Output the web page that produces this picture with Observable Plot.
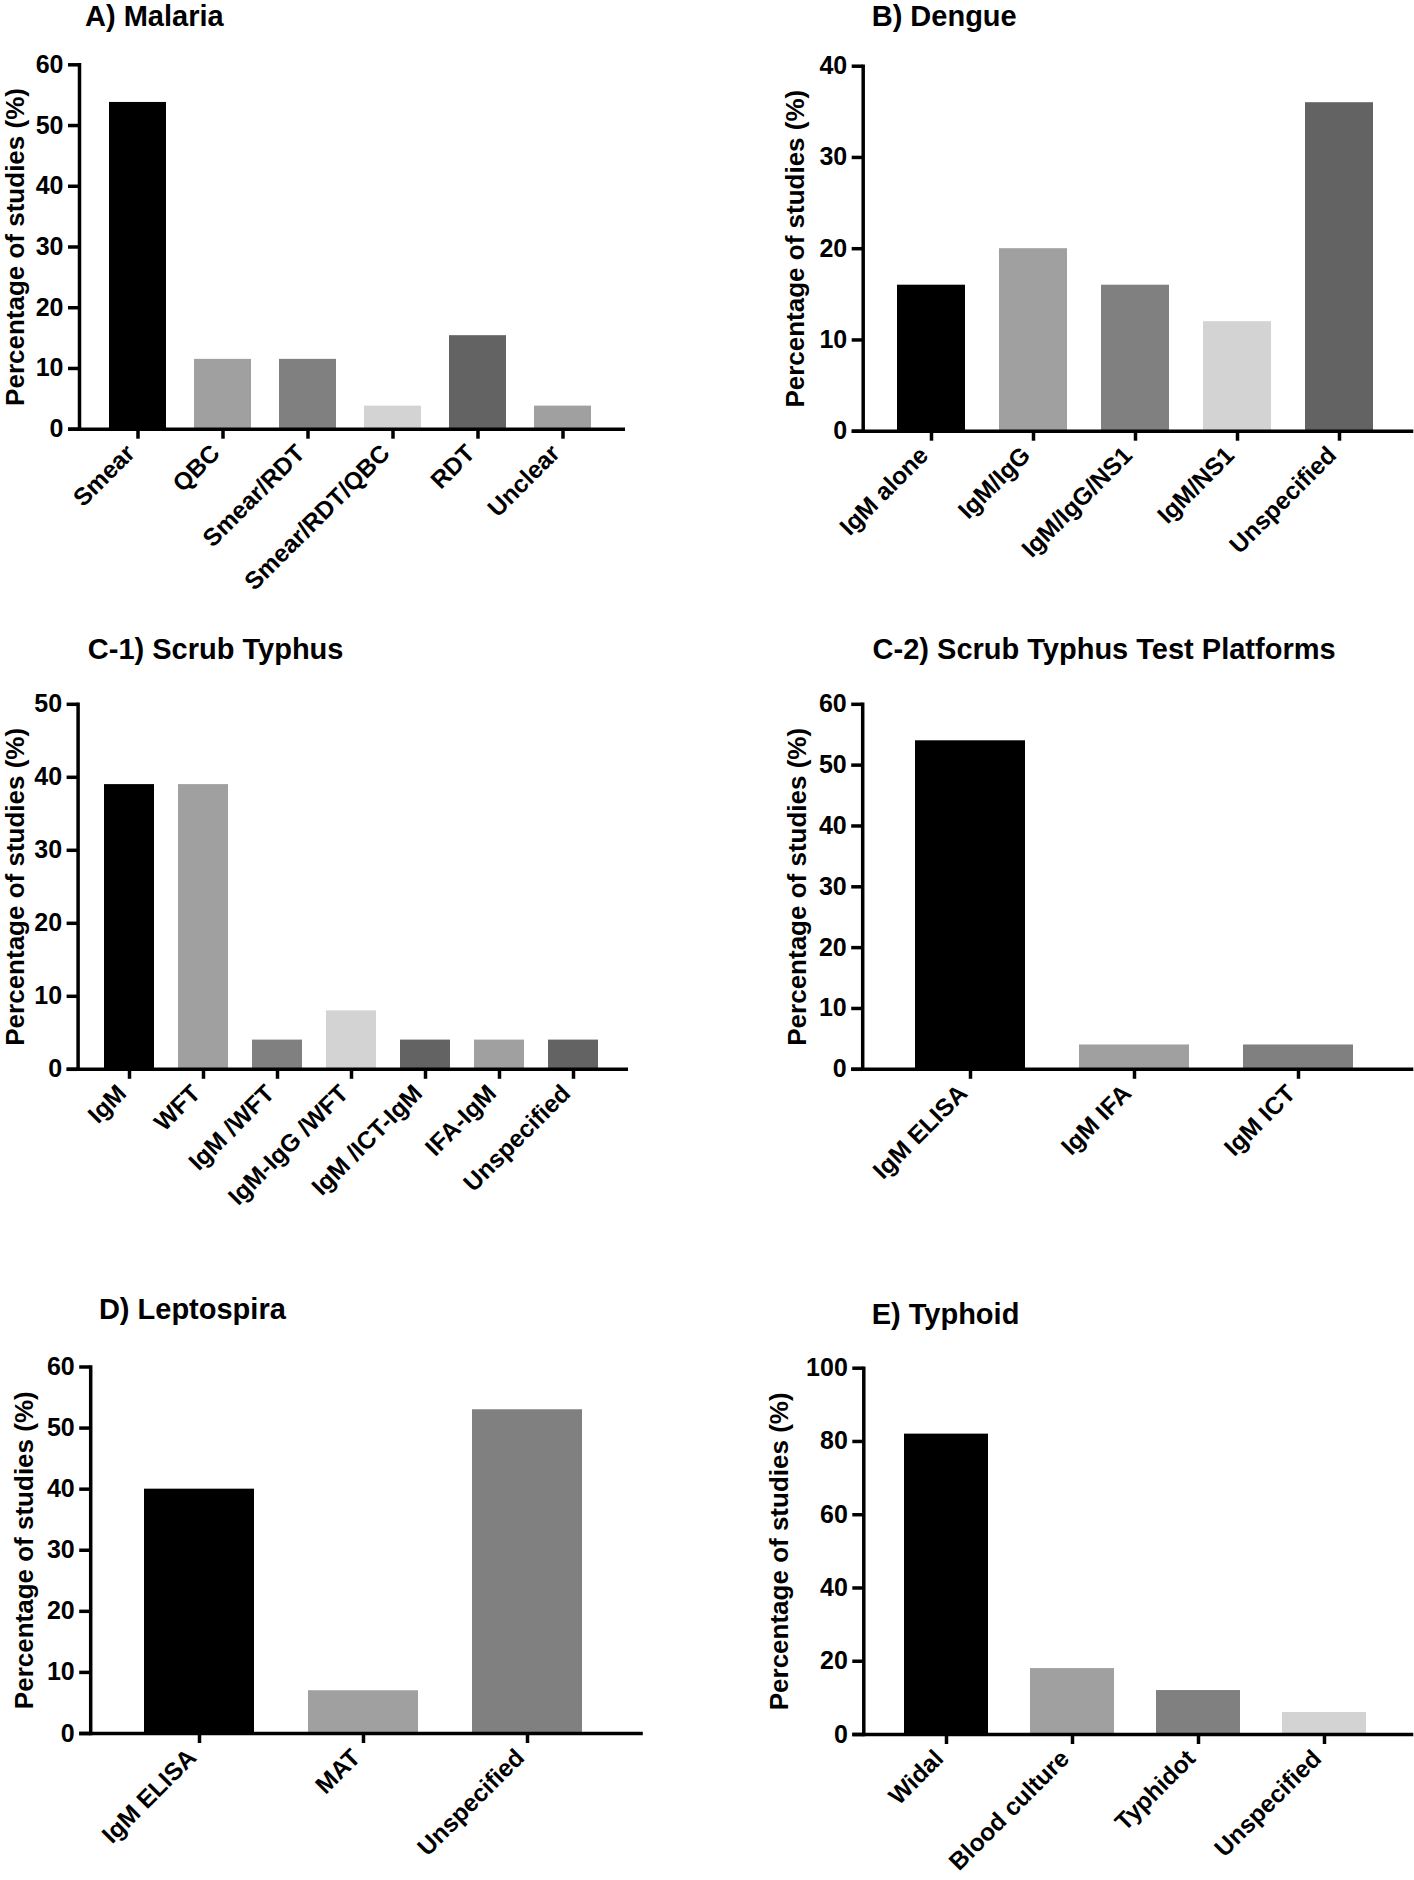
<!DOCTYPE html>
<html>
<head>
<meta charset="utf-8">
<script src="https://cdn.jsdelivr.net/npm/d3@7"></script>
<script src="https://cdn.jsdelivr.net/npm/@observablehq/plot@0.6"></script>
<style>
  html, body { margin: 0; padding: 0; background: #fff; }
  #root { position: relative; width: 1414px; height: 1880px; overflow: hidden; background: #fff;
          font-family: "Liberation Sans", Arial, sans-serif; }
  .panel { position: absolute; }
  .title { position: absolute; font-weight: bold; font-size: 29px; line-height: 29px; white-space: nowrap; color: #000; }
</style>
</head>
<body>
<div id="root"></div>
<script>
// ---------------- DATA ----------------
const yAxisLabel = "Percentage of studies (%)";

const malariaTitle = "A) Malaria";
const malariaCategories = ["Smear", "QBC", "Smear/RDT", "Smear/RDT/QBC", "RDT", "Unclear"];
const malariaValues = [53.8, 11.5, 11.5, 3.8, 15.4, 3.8];
const malariaTicks = [0, 10, 20, 30, 40, 50, 60];

const dengueTitle = "B) Dengue";
const dengueCategories = ["IgM alone", "IgM/IgG", "IgM/IgG/NS1", "IgM/NS1", "Unspecified"];
const dengueValues = [16, 20, 16, 12, 36];
const dengueTicks = [0, 10, 20, 30, 40];

const scrubTitle = "C-1) Scrub Typhus";
const scrubCategories = ["IgM", "WFT", "IgM /WFT", "IgM-IgG /WFT", "IgM /ICT-IgM", "IFA-IgM", "Unspecified"];
const scrubValues = [39, 39, 4, 8, 4, 4, 4];
const scrubTicks = [0, 10, 20, 30, 40, 50];

const platformTitle = "C-2) Scrub Typhus Test Platforms";
const platformCategories = ["IgM ELISA", "IgM IFA", "IgM ICT"];
const platformValues = [54, 4, 4];
const platformTicks = [0, 10, 20, 30, 40, 50, 60];

const leptoTitle = "D) Leptospira";
const leptoCategories = ["IgM ELISA", "MAT", "Unspecified"];
const leptoValues = [40, 7, 53];
const leptoTicks = [0, 10, 20, 30, 40, 50, 60];

const typhoidTitle = "E) Typhoid";
const typhoidCategories = ["Widal", "Blood culture", "Typhidot", "Unspecified"];
const typhoidValues = [82, 18, 12, 6];
const typhoidTicks = [0, 20, 40, 60, 80, 100];

// ---------------- STYLE / LAYOUT ----------------
const BLACK = "#000000", G1 = "#a0a0a0", G2 = "#808080", G3 = "#d3d3d3", G4 = "#636363";

const panels = [
  { title: malariaTitle, cats: malariaCategories, values: malariaValues, ticks: malariaTicks, ymax: 60,
    colors: [BLACK, G1, G2, G3, G4, G1],
    left: 0, top: 0, width: 640, height: 620, axisX: 79, xEnd: 625, yTop: 64.3, yBottom: 428.7,
    labelX: 23.8, titleX: 85, titleBase: 26.5 },
  { title: dengueTitle, cats: dengueCategories, values: dengueValues, ticks: dengueTicks, ymax: 40,
    colors: [BLACK, G1, G2, G3, G4],
    left: 760, top: 0, width: 654, height: 620, axisX: 862.7, xEnd: 1413.3, yTop: 65.7, yBottom: 430.7,
    labelX: 803.5, titleX: 871.7, titleBase: 26.5 },
  { title: scrubTitle, cats: scrubCategories, values: scrubValues, ticks: scrubTicks, ymax: 50,
    colors: [BLACK, G1, G2, G3, G4, G1, G4],
    left: 0, top: 620, width: 640, height: 620, axisX: 77.6, xEnd: 628, yTop: 703.8, yBottom: 1068.8,
    labelX: 23.8, titleX: 87.8, titleBase: 659.5 },
  { title: platformTitle, cats: platformCategories, values: platformValues, ticks: platformTicks, ymax: 60,
    colors: [BLACK, G1, G2],
    left: 760, top: 620, width: 654, height: 620, axisX: 862.2, xEnd: 1413.3, yTop: 703.8, yBottom: 1068.8,
    labelX: 805.6, titleX: 872.6, titleBase: 659.5 },
  { title: leptoTitle, cats: leptoCategories, values: leptoValues, ticks: leptoTicks, ymax: 60,
    colors: [BLACK, G1, G2],
    left: 0, top: 1250, width: 660, height: 630, axisX: 90.2, xEnd: 642.8, yTop: 1366.5, yBottom: 1733,
    labelX: 32.5, titleX: 98.9, titleBase: 1319.8 },
  { title: typhoidTitle, cats: typhoidCategories, values: typhoidValues, ticks: typhoidTicks, ymax: 100,
    colors: [BLACK, G1, G2, G3],
    left: 760, top: 1250, width: 654, height: 630, axisX: 863.3, xEnd: 1413.3, yTop: 1367.7, yBottom: 1734,
    labelX: 787, titleX: 871.7, titleBase: 1325 }
];

const root = document.getElementById("root");
const FONT = '"Liberation Sans", Arial, sans-serif';
const LW = 3.5;
const XLABEL_SIZE = 24.5;

for (const p of panels) {
  const ML = p.axisX - p.left;
  const MR = p.left + p.width - p.xEnd;
  const MT = p.yTop - p.top;
  const MB = p.top + p.height - p.yBottom;
  const data = p.cats.map((c, i) => ({ cat: c, value: p.values[i] }));

  const svg = Plot.plot({
    width: p.width,
    height: p.height,
    marginLeft: ML,
    marginRight: MR,
    marginTop: MT,
    marginBottom: MB,
    style: { fontFamily: FONT, fontWeight: "bold", color: "#000", background: "transparent", overflow: "visible" },
    x: { type: "band", domain: p.cats, paddingInner: 0.33, paddingOuter: 0.3425, align: 0.467, axis: null },
    y: { domain: [0, p.ymax], axis: null },
    color: { type: "ordinal", domain: p.cats, range: p.colors },
    marks: [
      Plot.barY(data, { x: "cat", y: "value", fill: "cat" }),
      Plot.frame({ anchor: "left", stroke: "#000", strokeWidth: LW }),
      Plot.ruleY([0], { stroke: "#000", strokeWidth: LW, insetLeft: -11 }),
      Plot.axisY({ ticks: p.ticks, tickSize: 11, tickPadding: 5, strokeWidth: LW, fontSize: 25,
                   label: null, tickFormat: d => String(d) }),
      Plot.axisX({ tickSize: 10, strokeWidth: LW, fill: "none", label: null, tickFormat: () => "" }),
      Plot.axisX({ tickSize: 0, tickPadding: 20, tickRotate: -45, dx: -7.3, fontSize: XLABEL_SIZE, label: null }),
      Plot.text([yAxisLabel], { frameAnchor: "left", rotate: -90, textAnchor: "middle", lineAnchor: "bottom",
                                dx: p.labelX - p.axisX, fontSize: 26, fontWeight: "bold", fill: "#000" })
    ]
  });
  svg.classList.add("panel");
  svg.style.left = p.left + "px";
  svg.style.top = p.top + "px";
  root.appendChild(svg);

  const t = document.createElement("div");
  t.className = "title";
  t.textContent = p.title;
  t.style.left = p.titleX + "px";
  t.style.top = (p.titleBase - 0.8465 * 29) + "px";
  root.appendChild(t);
}
</script>
</body>
</html>
